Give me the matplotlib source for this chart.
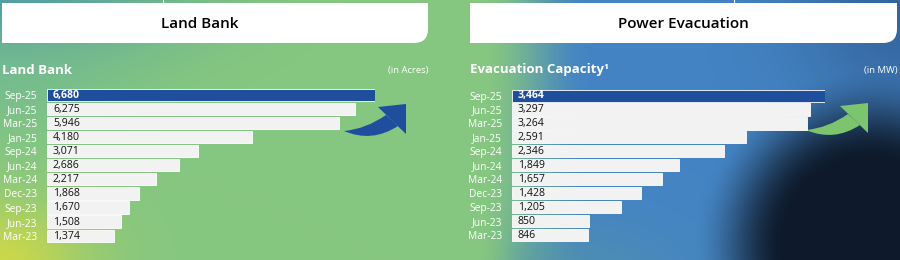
import numpy as np
import matplotlib
matplotlib.use("Agg")
import matplotlib.pyplot as plt
from matplotlib.path import Path
from matplotlib.patches import PathPatch, Polygon

plt.rcParams['font.family'] = ['Open Sans', 'DejaVu Sans']

# ---------------- data ----------------
periods = ["Sep-25", "Jun-25", "Mar-25", "Jan-25", "Sep-24", "Jun-24",
           "Mar-24", "Dec-23", "Sep-23", "Jun-23", "Mar-23"]
land_bank = [6680, 6275, 5946, 4180, 3071, 2686, 2217, 1868, 1670, 1508, 1374]
evacuation = [3464, 3297, 3264, 2591, 2346, 1849, 1657, 1428, 1205, 850, 846]
header_left = "Land Bank"
header_right = "Power Evacuation"
sub_left = "Land Bank"
sub_right = "Evacuation Capacity¹"
unit_left = "(in Acres)"
unit_right = "(in MW)"

W, H = 900, 260
fig = plt.figure(figsize=(9, 2.6), dpi=100)

# ---------------- background ----------------
bg = fig.add_axes([0, 0, 1, 1])
bg.set_xlim(0, W)
bg.set_ylim(H, 0)
bg.axis("off")

yy, xx = np.mgrid[0:H, 0:W].astype(float)

def blend(img, col, w):
    col = np.array(col, float) / 255.0
    w = np.clip(w, 0, 1)[..., None]
    return img * (1 - w) + col * w

def smooth(t):
    t = np.clip(t, 0, 1)
    return t * t * (3 - 2 * t)

img = np.ones((H, W, 3)) * np.array([134, 199, 128]) / 255.0
img = blend(img, (72, 150, 168), 0.85 * np.exp(-((xx / 170) ** 2 + (yy / 60) ** 2)))
img = blend(img, (110, 185, 150), 0.5 * np.exp(-((xx / 120) ** 2 + ((yy - 80) / 60) ** 2)))
img = blend(img, (205, 216, 72), 0.95 * np.exp(-((xx / 85) ** 2 + ((yy - 262) / 60) ** 2)))
# right half blue
img = blend(img, (68, 132, 196), smooth((xx - 480) / 110))
img = blend(img, (85, 150, 165), 0.55 * np.exp(-(((xx - 570) / 110) ** 2 + ((yy - 275) / 55) ** 2)) * smooth((xx - 470) / 60))
img = blend(img, (45, 90, 145), 0.75 * np.exp(-(((xx - 905) / 110) ** 2 + ((yy + 5) / 120) ** 2)))
# dark region (bottom right)
r = np.sqrt(((xx - 870) / 170) ** 2 + ((yy - 245) / 170) ** 2)
img = blend(img, (14, 26, 43), smooth((1.05 - r) / 0.55))
bg.imshow(img, extent=[0, W, H, 0], aspect="auto", zorder=0)

# ---------------- header boxes ----------------
def header_box(x0, x1, y0, y1, r):
    verts = [(x0, y0), (x1, y0), (x1, y1 - r), (x1, y1), (x1 - r, y1), (x0, y1), (x0, y0)]
    codes = [Path.MOVETO, Path.LINETO, Path.LINETO, Path.CURVE3, Path.CURVE3, Path.LINETO, Path.CLOSEPOLY]
    bg.add_patch(PathPatch(Path(verts, codes), facecolor="white", edgecolor="none", zorder=2))

header_box(2, 428, 3, 43, 14)
header_box(470, 897, 3, 43, 14)
bg.plot([163, 163], [0, 3], color="white", lw=0.8, zorder=2)
bg.plot([734, 734], [0, 3], color="white", lw=0.8, zorder=2)
bg.text(200, 23.5, header_left, ha="center", va="center", fontsize=11, fontweight="semibold", color="black", zorder=3)
bg.text(683, 23.5, header_right, ha="center", va="center", fontsize=11, fontweight="semibold", color="black", zorder=3)

bg.text(2, 70, sub_left, ha="left", va="center", fontsize=9.5, fontweight="bold", color="white", zorder=3)
bg.text(470, 70, sub_right, ha="left", va="center", fontsize=9.5, fontweight="bold", color="white", zorder=3)
bg.text(428, 70, unit_left, ha="right", va="center", fontsize=6.8, color="white", zorder=3)
bg.text(897, 70, unit_right, ha="right", va="center", fontsize=6.8, color="white", zorder=3)

# ---------------- curved arrows ----------------
def curved_arrow(dx, dy, color):
    body = [(344, 131), (366, 129), (386, 115), (398, 126), (372, 143), (344, 131)]
    codes = [Path.MOVETO, Path.CURVE3, Path.CURVE3, Path.LINETO, Path.CURVE3, Path.CURVE3]
    body = [(x + dx, y + dy) for x, y in body]
    bg.add_patch(PathPatch(Path(body, codes), facecolor=color, edgecolor="none", zorder=2))
    head = [(378 + dx, 107 + dy), (406 + dx, 104 + dy), (406 + dx, 134 + dy)]
    bg.add_patch(Polygon(head, closed=True, facecolor=color, edgecolor="none", zorder=2))

curved_arrow(0, 0, "#1F4E9E")
curved_arrow(462, -1, "#7DC46F")

# ---------------- bar charts ----------------
def bar_panel(left_px, width_px, top_px, bottom_px, values):
    ax = fig.add_axes([left_px / W, (H - bottom_px) / H, width_px / W, (bottom_px - top_px) / H])
    ax.set_facecolor("none")
    n = len(values)
    pos = np.arange(n)
    colors = ["#1F4E9C"] + ["#F2F2F2"] * (n - 1)
    ax.barh(pos, values, height=0.87, color=colors, edgecolor="white", linewidth=0.6, zorder=2)
    ax.set_xlim(0, values[0])
    ax.set_ylim(n - 0.5, -0.5)
    ax.set_yticks(pos)
    ax.set_yticklabels(periods, color="white", fontsize=7.4)
    ax.tick_params(axis="y", length=0, pad=7)
    ax.set_xticks([])
    for s in ax.spines.values():
        s.set_visible(False)
    for i, v in enumerate(values):
        first = i == 0
        ax.annotate(f"{v:,}", xy=(0, i), xytext=(4.3, -0.3), textcoords="offset points",
                    ha="left", va="center", fontsize=7.6,
                    fontweight="bold" if first else "normal",
                    color="white" if first else "#111111", zorder=3)
    return ax

bar_panel(47, 328, 87.6, 242.8, land_bank)
bar_panel(511.7, 313.3, 88.6, 242.0, evacuation)

fig.savefig("out.png", dpi=100)
